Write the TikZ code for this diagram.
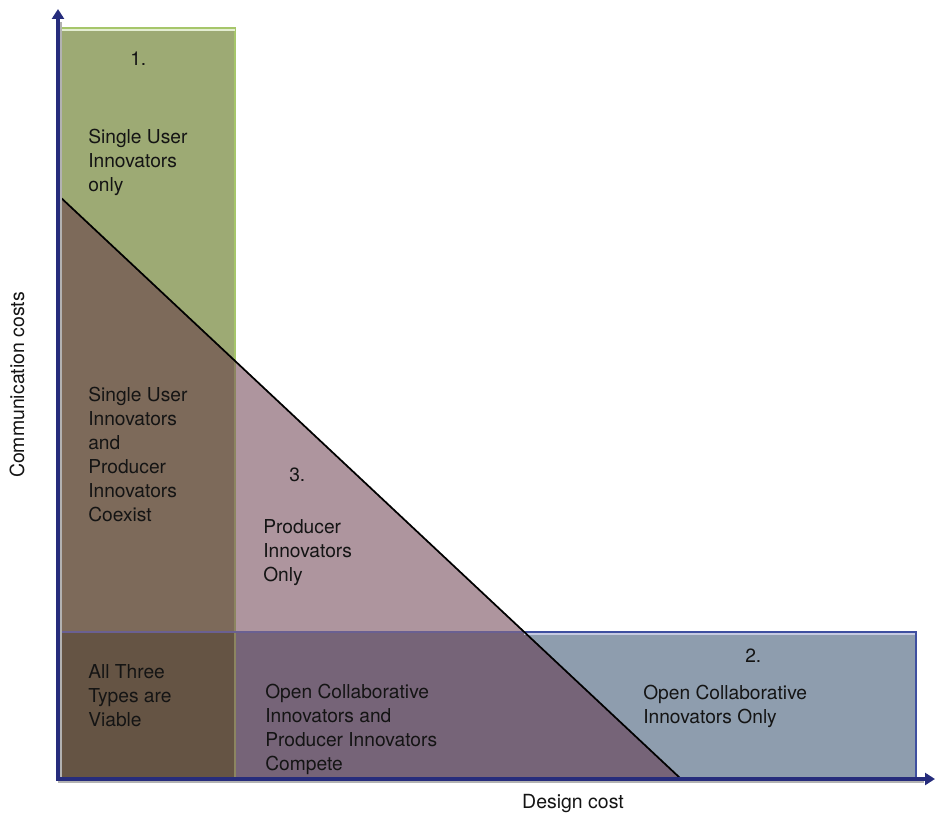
\documentclass[tikz,border=0pt]{standalone}
\usepackage{fontspec}
\setmainfont{TeX Gyre Heros}
\usetikzlibrary{arrows.meta}
\definecolor{axiscol}{HTML}{262C7C}
\definecolor{txt}{HTML}{141414}
\definecolor{cgreen}{HTML}{9DAA74}
\definecolor{cbrown}{HTML}{7D6A5A}
\definecolor{cpink}{HTML}{AE959E}
\definecolor{cblue}{HTML}{8E9DAE}
\definecolor{cpurple}{HTML}{766478}
\definecolor{cdark}{HTML}{655444}
\definecolor{gborder}{HTML}{A6C66A}
\definecolor{gborderdim}{HTML}{8C8560}
\definecolor{bborder}{HTML}{3E4FA0}
\definecolor{bborderdim}{HTML}{6A6092}
\tikzset{
  lbl/.style={anchor=north west, inner sep=0pt, align=left, font=\fontsize{14.4}{18}\selectfont, text=txt},
  axlbl/.style={font=\fontsize{14.6}{18}\selectfont, text=txt},
  axisline/.style={line width=3pt, draw=axiscol, -{Triangle[length=7.5pt,width=9pt]}},
  axisshadow/.style={line width=3pt, draw=black!30},
}
\begin{document}
\begin{tikzpicture}[x=0.75pt,y=-0.75pt]
\useasboundingbox (0,0) rectangle (935,816);
% key points
\coordinate (GTL) at (58,28);
\coordinate (GTR) at (235,28);
\coordinate (GX) at (235,360.9);
\coordinate (TTop) at (58,195);
\coordinate (GB) at (235,632);
\coordinate (BL) at (58,632);
\coordinate (BX) at (524.2,632);
\coordinate (BTR) at (916,632);
\coordinate (BBR) at (916,778);
\coordinate (TR) at (680,778);
\coordinate (GBot) at (235,778);
\coordinate (O) at (58,778);
% region fills
\fill[cgreen] (GTL) -- (GTR) -- (GX) -- (TTop) -- cycle;
\fill[cbrown] (TTop) -- (GX) -- (GB) -- (BL) -- cycle;
\fill[cpink] (GX) -- (BX) -- (GB) -- cycle;
\fill[cdark] (BL) -- (GB) -- (GBot) -- (O) -- cycle;
\fill[cpurple] (GB) -- (BX) -- (TR) -- (GBot) -- cycle;
\fill[cblue] (BX) -- (BTR) -- (BBR) -- (TR) -- cycle;
% borders
\draw[gborder, line width=1.2pt] (GTL) -- (GTR) -- (GX);
\draw[white!70!gborder, line width=0.8pt] ([yshift=-1.5pt]GTL) -- ([yshift=-1.5pt]GTR);
\draw[gborderdim, line width=1pt] (GX) -- (GBot);
\draw[bborderdim, line width=1pt] (BL) -- (BX);
\draw[bborder, line width=1.1pt] (BX) -- (BTR) -- (BBR);
\draw[white!70!bborder, line width=0.8pt] ([yshift=-1.5pt]BX) -- ([xshift=-1pt,yshift=-1.5pt]BTR);
\draw[black, line width=1.3pt] (TTop) -- (TR);
% axes
\coordinate (YS) at (58,780);
\coordinate (YE) at (58,9);
\coordinate (XS) at (56,779);
\coordinate (XE) at (935,779);
\coordinate (YSh) at (59.5,781.5);
\coordinate (YEh) at (59.5,22);
\coordinate (XSh) at (57.5,781);
\coordinate (XEh) at (924,781);
\draw[axisshadow] (YSh) -- (YEh);
\draw[axisshadow] (XSh) -- (XEh);
\draw[axisline] (YS) -- (YE);
\draw[axisline] (XS) -- (XE);
% labels
\node[lbl] (n1) at (130,52) {1.};
\node[lbl] (a) at (88,129) {Single User\\Innovators\\only};
\node[lbl] (b) at (88,387) {Single User\\Innovators\\and\\Producer\\Innovators\\Coexist};
\node[lbl] (n3) at (289,468) {3.};
\node[lbl] (c) at (263,519) {Producer\\Innovators\\Only};
\node[lbl] (d) at (88,664) {All Three\\Types are\\Viable};
\node[lbl] (e) at (265,684) {Open Collaborative\\Innovators and\\Producer Innovators\\Compete};
\node[lbl] (n2) at (745,649) {2.};
\node[lbl] (f) at (643,685) {Open Collaborative\\Innovators Only};
\node[axlbl] (xl) at (573,804) {Design cost};
\node[axlbl, rotate=90] (yl) at (17,385) {Communication costs};
\end{tikzpicture}
\end{document}
